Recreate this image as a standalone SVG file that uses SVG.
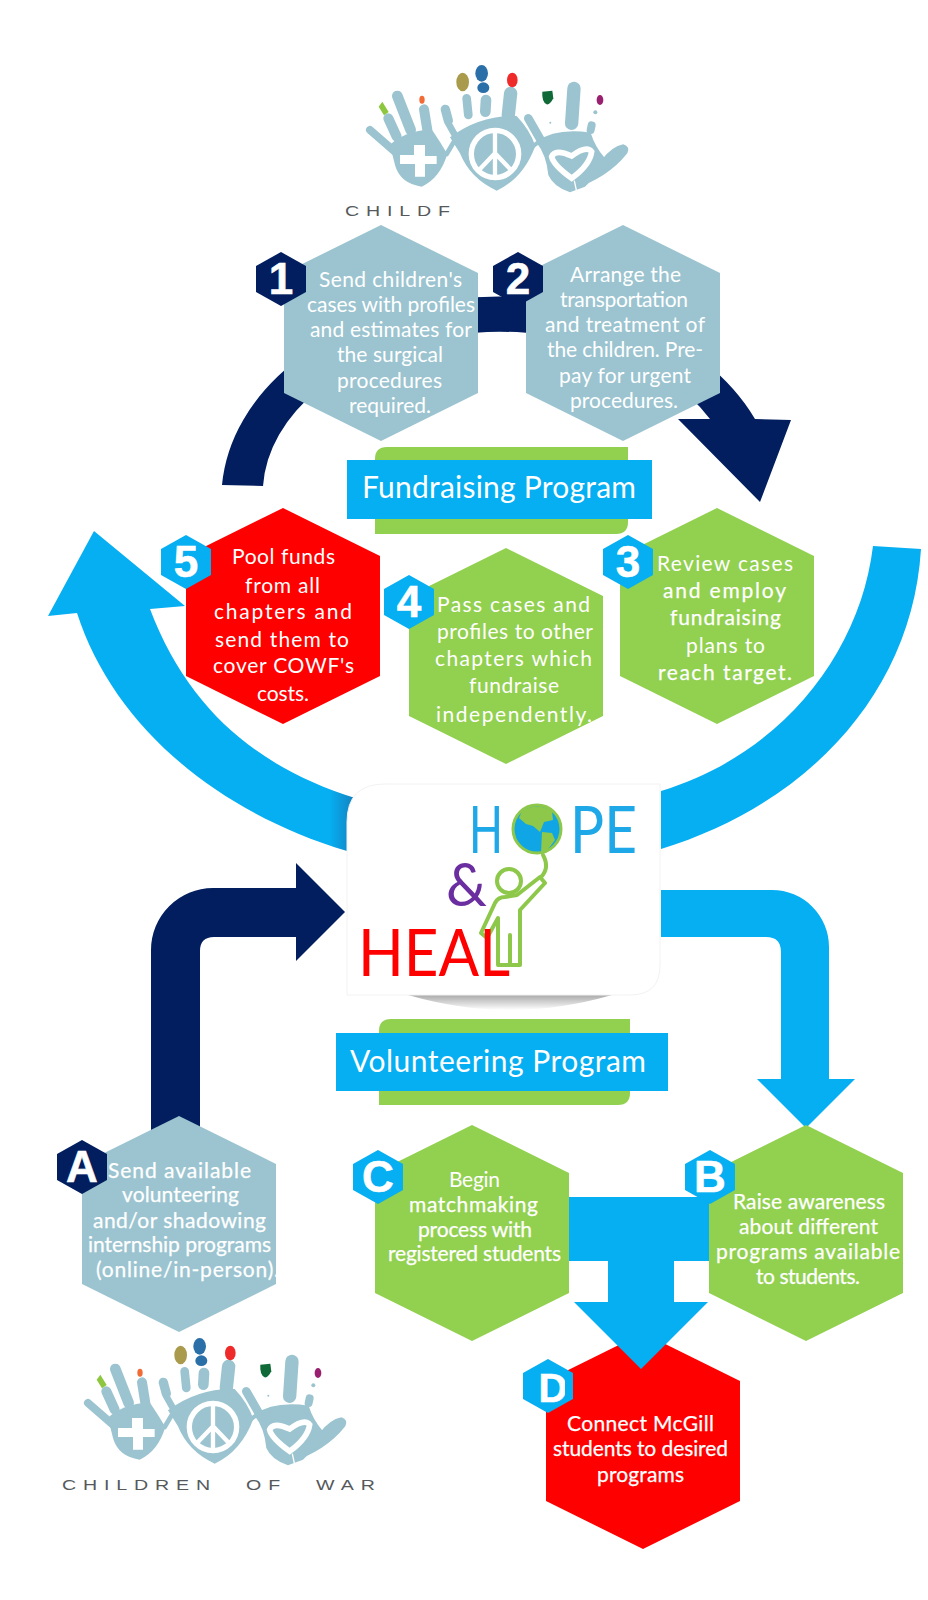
<svg xmlns="http://www.w3.org/2000/svg" width="928" height="1600" viewBox="0 0 928 1600">
<style>
.t{font-family:"Lato","Liberation Sans",sans-serif;font-size:21px;fill:#fff}
.b{stroke:#fff;stroke-width:.25px}
.n{font-family:"Liberation Sans",Arial,sans-serif;font-weight:bold;font-size:44px;fill:#fff;text-anchor:middle;stroke:#fff;stroke-width:.6px}
.h{font-family:"Lato","Liberation Sans",sans-serif;font-size:30px;fill:#fff}
.navy{fill:#021e5e}.cy{fill:#06aef2}.gr{fill:#92d050}.re{fill:#ff0000}.bl{fill:#9bc4d0}
.f{fill:none;stroke:#9bc4d0;stroke-linecap:round}
.lg{font-family:"Lato","Liberation Sans",sans-serif;font-size:66px}
.w{font-family:"Liberation Sans",Arial,sans-serif;font-size:14px;fill:#55595c;letter-spacing:4.9px;word-spacing:12px}
.fg{fill:none;stroke:#8dc84b;stroke-width:4;stroke-linejoin:round;stroke-linecap:round}
</style>
<defs>
<polygon id="hx" points="0,-108 97,-60 97,60 0,108 -97,60 -97,-60"/>
<polygon id="bd" points="0,-27 25,-13 25,13 0,27 -25,13 -25,-13"/>
<linearGradient id="dk" gradientUnits="userSpaceOnUse" x1="330" y1="0" x2="355" y2="0"><stop offset="0" stop-color="#06aef2"/><stop offset="1" stop-color="#1480bd"/></linearGradient>
<linearGradient id="sh" x1="0" y1="0" x2="0" y2="1"><stop offset="0" stop-color="#aaa"/><stop offset="1" stop-color="#fff"/></linearGradient>
<clipPath id="cl"><rect x="340" y="195" width="110" height="30"/></clipPath>
<clipPath id="dc"><rect x="520" y="1360" width="45" height="50"/></clipPath>
<g id="logo">
<g class="f">
<path d="M90,240L165,305" stroke-width="24"/><path d="M145,205L170,260" stroke-width="30"/><path d="M172,138L212,240" stroke-width="32"/><path d="M252,178L262,240" stroke-width="30"/>
<path d="M316,178L325,212" stroke-width="28"/><path d="M325,220L352,268" stroke-width="20"/><path d="M380,145L385,195" stroke-width="26"/><path d="M438,150L436,185" stroke-width="32"/><path d="M512,130L505,195" stroke-width="40"/>
<path d="M320,312L352,258" stroke-width="14"/><path d="M565,205L605,275" stroke-width="26"/><path d="M702,115L695,220" stroke-width="40"/><path d="M755,226L752,240" stroke-width="24"/>
<path d="M590,280L565,300" stroke-width="12"/>
</g>
<circle cx="766" cy="187" r="6" fill="#9bc4d0"/><circle cx="631" cy="218" r="3" fill="#9bc4d0"/>
<path class="bl" d="M150,285Q190,245 275,238Q300,275 322,312Q300,385 245,410Q180,400 165,345Z"/>
<path class="bl" d="M330,262Q420,195 530,198Q570,240 586,288Q550,385 470,422Q390,385 360,310Z"/>
<path class="bl" d="M588,275Q650,232 752,248Q765,290 795,325Q770,380 735,410L690,427Q640,410 625,375Q620,315 588,275Z"/>
<path class="bl" d="M850,283Q872,290 862,310Q830,350 790,375Q750,400 712,413L700,370L785,330Q815,290 850,283Z"/>
<path d="M180,315H222V285H255V318H290V342H255V380H225V342H180Z" fill="#fff"/>
<circle cx="465" cy="312" r="71" fill="none" stroke="#fff" stroke-width="16"/>
<path d="M465,240V385M465,310L415,362M465,310L515,362" fill="none" stroke="#fff" stroke-width="13"/>
<path d="M695,385Q640,345 635,320Q645,295 695,318Q740,285 755,305Q750,345 695,385Z" fill="none" stroke="#fff" stroke-width="17"/>
<path d="M710,425L703,392" stroke="#fff" stroke-width="4"/>
<path d="M116,170L127,155L146,186L132,196Z" fill="#8dc63f"/>
<ellipse cx="246" cy="149" rx="8" ry="12" fill="#f26a36"/>
<ellipse cx="368" cy="96" rx="19" ry="28" fill="#a99a4c"/>
<ellipse cx="425" cy="70" rx="19" ry="25" fill="#2a6fa8"/>
<ellipse cx="430" cy="113" rx="18" ry="16" fill="#2a6fa8"/>
<ellipse cx="517" cy="90" rx="16" ry="22" fill="#ee2a2a"/>
<path d="M607,125L637,122L640,145Q630,165 620,163Q605,155 607,125Z" fill="#0f6a37"/>
<ellipse cx="780" cy="150" rx="10" ry="15" fill="#98206e"/>
</g>
</defs>

<use href="#logo" transform="translate(340,50) scale(.3333)"/>
<g clip-path="url(#cl)"><text class="w" transform="translate(345,216) scale(1.4,1)">CHILDF</text></g>
<use href="#logo" transform="translate(58,1323) scale(.3333)"/>
<text class="w" transform="translate(62,1490) scale(1.4,1)">CHILDREN OF WAR</text>

<g id="connectors">
<path class="navy" d="M222,485A278,202 0 0 1 755,419L791,420L760,502L678,419H710A237,162 0 0 0 263,486Z"/>
<path d="M94,531L48,616L77,613C113,724 214,811 347,851L355,798C265,770 190,715 150,609L185,606Z" fill="url(#dk)"/>
<path class="cy" d="M873,546C860,655 780,755 661,791V849C805,805 912,695 921,549Z"/>
<path class="navy" d="M151,1160V950A62,62 0 0 1 213,888H296V863L345,912L296,961V937H214Q200,937 200,951V1160Z"/>
<path class="cy" d="M661,890H772A57,57 0 0 1 829,947V1079H855L806,1128L757,1079H781V952Q781,937 766,937H661Z"/>
<path class="cy" d="M560,1197H720V1261H674V1310H608V1261H560Z"/>
</g>

<g id="fundraising-banner">
<path class="gr" d="M387,447H628V522Q628,534 616,534H375V459Q375,447 387,447Z"/>
<rect class="cy" x="347" y="460" width="305" height="59"/>
<text class="h" x="362" y="498" textLength="274">Fundraising Program</text>
</g>

<g id="node-1"><use href="#hx" class="bl" x="381" y="333"/><use href="#bd" class="navy" x="281" y="279"/><text class="n" x="281" y="294">1</text>
<text class="t" x="319" y="287" textLength="143">Send children's</text><text class="t" x="307" y="312" textLength="168">cases with profiles</text><text class="t" x="310" y="337" textLength="162">and estimates for</text><text class="t" x="337" y="362" textLength="106">the surgical</text><text class="t" x="337" y="388" textLength="105">procedures</text><text class="t" x="349" y="413" textLength="82">required.</text></g>

<g id="node-2"><use href="#hx" class="bl" x="623" y="333"/><use href="#bd" class="navy" x="518" y="279"/><text class="n" x="518" y="294">2</text>
<text class="t" x="570" y="282" textLength="111">Arrange the</text><text class="t" x="560" y="307" textLength="128">transportation</text><text class="t" x="545" y="332" textLength="160">and treatment of</text><text class="t" x="547" y="357" textLength="156">the children. Pre-</text><text class="t" x="559" y="383" textLength="132">pay for urgent</text><text class="t" x="570" y="408" textLength="108">procedures.</text></g>

<g id="node-3"><use href="#hx" class="gr" x="717" y="616"/><use href="#bd" class="cy" x="628" y="562"/><text class="n" x="628" y="577">3</text>
<text class="t" x="657" y="571" textLength="136">Review cases</text><text class="t b" x="663" y="598" textLength="123">and employ</text><text class="t b" x="670" y="625" textLength="111">fundraising</text><text class="t" x="686" y="653" textLength="79">plans to</text><text class="t b" x="658" y="680" textLength="134">reach target.</text></g>

<g id="node-4"><use href="#hx" class="gr" x="506" y="656"/><use href="#bd" class="cy" x="409" y="602"/><text class="n" x="409" y="617">4</text>
<text class="t" x="437" y="612" textLength="153">Pass cases and</text><text class="t" x="437" y="639" textLength="156">profiles to other</text><text class="t" x="435" y="666" textLength="157">chapters which</text><text class="t" x="469" y="693" textLength="90">fundraise</text><text class="t" x="436" y="722" textLength="156">independently.</text></g>

<g id="node-5"><use href="#hx" class="re" x="283" y="616"/><use href="#bd" class="cy" x="186" y="562"/><text class="n" x="186" y="577">5</text>
<text class="t" x="232" y="564" textLength="103">Pool funds</text><text class="t" x="245" y="593" textLength="75">from all</text><text class="t" x="214" y="619" textLength="138">chapters and</text><text class="t" x="215" y="647" textLength="134">send them to</text><text class="t" x="213" y="673" textLength="141">cover COWF's</text><text class="t" x="257" y="701" textLength="52">costs.</text></g>

<g id="hope-heal">
<path d="M408,995H612Q560,1010 510,1010Q460,1010 408,995Z" fill="url(#sh)"/>
<path d="M385,784H660V965Q660,995 630,995H347V822Q347,784 385,784Z" fill="#fff" stroke="#f2f2f2"/>
<text class="lg" x="469" y="853" fill="#1fa8e8" textLength="34" lengthAdjust="spacingAndGlyphs">H</text>
<text class="lg" x="570" y="853" fill="#1fa8e8" textLength="67" lengthAdjust="spacingAndGlyphs">PE</text>
<circle cx="537" cy="829" r="24" fill="#10a5e5" stroke="#8dc84b" stroke-width="3"/>
<path d="M522,811Q537,802 552,811L553,820L544,822L540,832L533,826L526,824L519,818ZM542,832L552,833L555,840L546,852L541,853Z" fill="#8dc84b"/>
<path class="fg" d="M543,855Q550,868 541,877"/>
<circle class="fg" cx="509" cy="881" r="12"/>
<path class="fg" d="M540,877L545,883L520,910V965H498V918L487,938L481,933L495,903Q498,897 505,897L517,895Z"/>
<path class="fg" d="M510,935V963"/>
<text x="446" y="906" style="font-family:'Lato','Liberation Sans',sans-serif;font-size:60px" fill="#6a2ea0" textLength="41" lengthAdjust="spacingAndGlyphs">&amp;</text>
<text class="lg" x="358" y="976" fill="#ff0000" textLength="152" lengthAdjust="spacingAndGlyphs">HEAL</text>
</g>

<g id="volunteering-banner">
<path class="gr" d="M391,1019H630V1093Q630,1105 618,1105H379V1031Q379,1019 391,1019Z"/>
<rect class="cy" x="336" y="1033" width="332" height="58"/>
<text class="h" x="350" y="1072" textLength="296">Volunteering Program</text>
</g>

<g id="node-a"><use href="#hx" class="bl" x="179" y="1224"/><use href="#bd" class="navy" x="82" y="1167"/><text class="n" x="82" y="1182">A</text>
<text class="t b" x="108" y="1178" textLength="143">Send available</text><text class="t b" x="122" y="1202" textLength="117">volunteering</text><text class="t b" x="93" y="1228" textLength="173">and/or shadowing</text><text class="t b" x="88" y="1252" textLength="183">internship programs</text><text class="t b" x="96" y="1277" textLength="183">(online/in-person).</text></g>

<g id="node-c"><use href="#hx" class="gr" x="472" y="1233"/><use href="#bd" class="cy" x="378" y="1177"/><text class="n" x="378" y="1192">C</text>
<text class="t" x="449" y="1187" textLength="51">Begin</text><text class="t b" x="409" y="1212" textLength="129">matchmaking</text><text class="t b" x="418" y="1237" textLength="114">process with</text><text class="t b" x="388" y="1261" textLength="173">registered students</text></g>

<g id="node-b"><use href="#hx" class="gr" x="806" y="1233"/><use href="#bd" class="cy" x="710" y="1177"/><text class="n" x="710" y="1192">B</text>
<text class="t b" x="733" y="1209" textLength="152">Raise awareness</text><text class="t b" x="739" y="1234" textLength="139">about different</text><text class="t b" x="716" y="1259" textLength="184">programs available</text><text class="t b" x="756" y="1284" textLength="104">to students.</text></g>

<g id="node-d"><use href="#hx" class="re" x="643" y="1441"/>
<path class="cy" d="M574,1302H708L641,1369Z"/>
<use href="#bd" class="cy" x="548" y="1386"/><g clip-path="url(#dc)"><text class="n" x="553" y="1402" style="font-size:40px">D</text></g>
<text class="t b" x="567" y="1431" textLength="147">Connect McGill</text><text class="t b" x="553" y="1456" textLength="175">students to desired</text><text class="t b" x="597" y="1482" textLength="87">programs</text></g>
</svg>
